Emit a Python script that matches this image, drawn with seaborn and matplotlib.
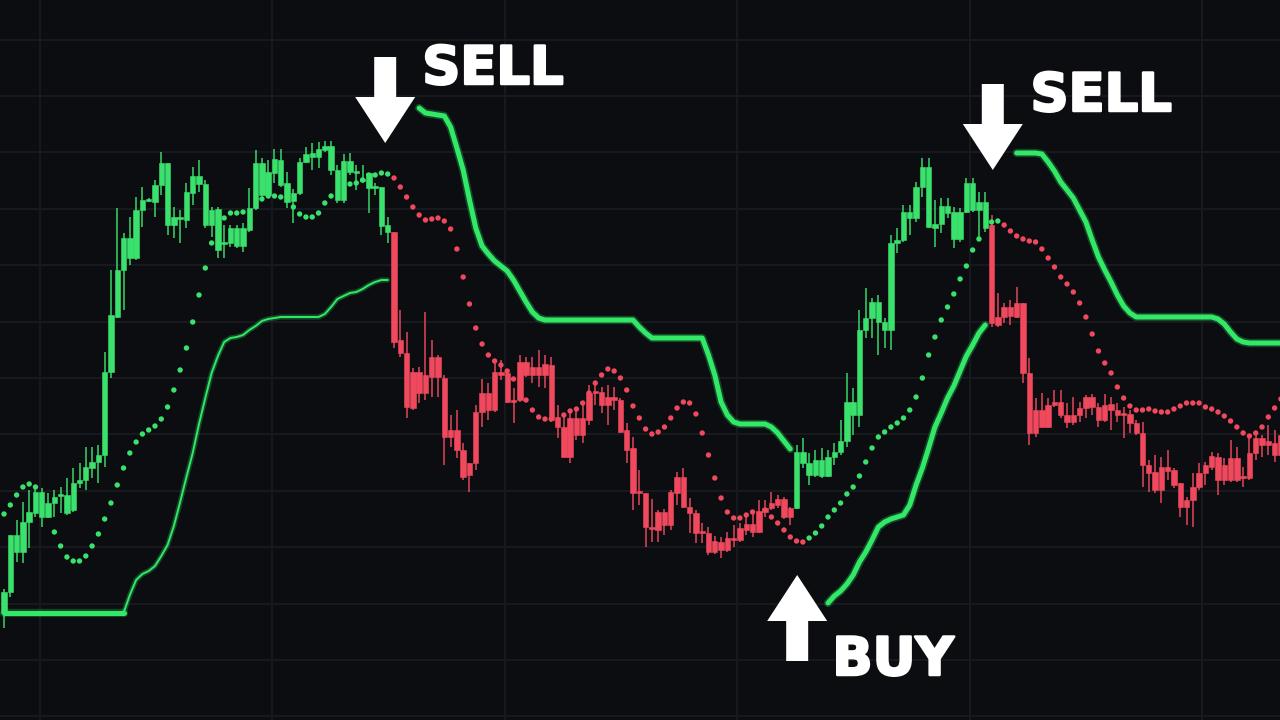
import numpy as np
import pandas as pd
import matplotlib
matplotlib.use("Agg")
import matplotlib.pyplot as plt
import matplotlib.transforms as mtransforms
import matplotlib.patheffects as pe
from matplotlib.patches import Polygon
import seaborn as sns

nan = np.nan

# ---- candles (one value per bar) ----
opens = [107, 128, 168, 168, 198, 207, 203, 203, 217, 224,
         207, 210, 237, 240, 252, 258, 265, 348, 403, 450,
         462, 462, 510, 519, 518, 535, 495, 495, 501, 500,
         527, 536, 495, 495, 470, 476, 477, 474, 474, 490,
         512, 525, 525, 547, 535, 518, 519, 527, 558, 563,
         563, 570, 550, 520, 520, 548, 547, 539, 532, 532,
         494, 488, 488, 380, 367, 348, 348, 345, 363, 363,
         342, 290, 290, 270, 257, 308, 327, 327, 348, 348,
         347, 320, 358, 358, 353, 353, 356, 355, 303, 293,
         302, 302, 302, 327, 328, 328, 323, 323, 320, 290,
         272, 228, 227, 193, 208, 208, 228, 243, 243, 213,
         207, 188, 187, 179, 178, 182, 182, 192, 196, 196,
         209, 212, 217, 221, 221, 212, 212, 257, 245, 245,
         244, 244, 263, 268, 279, 305, 305, 390, 402, 398,
         390, 390, 477, 480, 502, 502, 533, 493, 492, 496,
         507, 481, 481, 508, 510, 510, 492, 495, 403, 413,
         413, 417, 417, 347, 310, 310, 315, 318, 318, 305,
         305, 312, 323, 323, 313, 315, 316, 310, 306, 306,
         297, 287, 255, 248, 253, 253, 250, 237, 220, 233,
         247, 255, 264, 263, 255, 262, 262, 243, 267, 282,
         282, 279, 277, 285]
closes = [128, 185, 185, 198, 208, 228, 228, 217, 223, 225,
          225, 237, 240, 253, 258, 265, 348, 405, 450, 482,
          482, 510, 520, 521, 535, 557, 557, 503, 503, 528,
          544, 544, 536, 510, 511, 477, 492, 492, 492, 512,
          557, 557, 548, 561, 560, 537, 527, 558, 566, 567,
          571, 574, 574, 550, 559, 559, 548, 541, 547, 534,
          533, 495, 378, 367, 313, 312, 327, 327, 343, 343,
          283, 283, 270, 243, 245, 257, 308, 310, 310, 345,
          318, 318, 320, 345, 345, 345, 345, 300, 293, 263,
          263, 285, 285, 300, 327, 315, 315, 320, 288, 270,
          227, 227, 193, 191, 190, 195, 195, 227, 213, 207,
          187, 187, 168, 168, 170, 170, 180, 180, 190, 188,
          188, 208, 212, 215, 203, 203, 268, 268, 257, 260,
          260, 263, 268, 279, 318, 318, 390, 402, 418, 418,
          398, 477, 480, 508, 508, 533, 553, 553, 496, 514,
          514, 508, 508, 537, 537, 518, 518, 397, 395, 403,
          404, 403, 347, 287, 287, 293, 293, 315, 305, 298,
          298, 305, 312, 313, 300, 300, 310, 305, 305, 297,
          287, 255, 247, 230, 230, 249, 235, 213, 213, 220,
          233, 247, 253, 240, 240, 240, 240, 242, 242, 267,
          275, 275, 265, 265]
highs = [131, 185, 200, 218, 230, 235, 232, 227, 230, 233,
         242, 252, 257, 273, 273, 275, 368, 450, 512, 487,
         503, 523, 533, 522, 540, 568, 557, 513, 510, 537,
         553, 560, 540, 513, 513, 495, 495, 495, 497, 532,
         570, 562, 560, 571, 571, 548, 531, 562, 573, 577,
         578, 579, 579, 555, 566, 567, 555, 555, 547, 537,
         533, 503, 488, 410, 388, 352, 353, 408, 380, 365,
         345, 305, 310, 277, 257, 315, 341, 337, 357, 360,
         348, 332, 365, 363, 363, 370, 365, 363, 315, 307,
         310, 313, 318, 335, 335, 333, 335, 333, 322, 297,
         283, 250, 227, 221, 210, 211, 230, 248, 252, 222,
         210, 197, 193, 184, 183, 188, 195, 197, 207, 210,
         220, 220, 228, 225, 223, 213, 275, 282, 267, 270,
         272, 270, 277, 300, 347, 332, 410, 432, 422, 425,
         402, 485, 492, 515, 515, 538, 562, 562, 520, 522,
         522, 513, 512, 542, 542, 528, 528, 505, 427, 417,
         420, 433, 417, 362, 322, 327, 322, 330, 330, 317,
         323, 318, 325, 326, 317, 326, 323, 317, 313, 310,
         300, 298, 260, 265, 263, 270, 252, 237, 223, 247,
         257, 258, 268, 267, 262, 280, 273, 253, 285, 288,
         285, 295, 290, 292]
lows = [92, 123, 158, 157, 172, 203, 193, 202, 203, 207,
        205, 208, 232, 230, 242, 237, 253, 342, 402, 410,
        455, 460, 493, 518, 503, 525, 485, 482, 477, 492,
        515, 528, 492, 483, 462, 462, 473, 472, 468, 488,
        510, 522, 522, 537, 533, 512, 497, 525, 557, 550,
        552, 568, 545, 517, 517, 545, 530, 537, 507, 525,
        485, 477, 372, 363, 302, 310, 317, 320, 323, 323,
        255, 273, 262, 240, 228, 250, 293, 300, 308, 340,
        317, 297, 318, 343, 337, 333, 332, 298, 282, 262,
        257, 280, 277, 295, 315, 307, 295, 310, 287, 257,
        210, 215, 173, 178, 178, 185, 190, 215, 212, 187,
        177, 177, 165, 166, 162, 168, 173, 178, 185, 183,
        187, 203, 210, 212, 201, 195, 211, 252, 235, 243,
        242, 243, 255, 265, 273, 285, 293, 382, 382, 365,
        372, 370, 467, 478, 485, 498, 523, 492, 473, 487,
        502, 472, 478, 507, 508, 483, 488, 393, 393, 397,
        395, 402, 337, 275, 283, 292, 292, 313, 302, 292,
        295, 298, 302, 305, 293, 298, 290, 298, 282, 287,
        285, 233, 228, 227, 217, 240, 232, 203, 195, 193,
        230, 235, 250, 225, 235, 238, 238, 233, 240, 260,
        263, 265, 258, 260]

# trend regimes (bar index where each one starts)
trend_start = [0, 62, 126, 157]
trend_up = [True, False, True, False]

# parabolic SAR dots
sar = [206, 215, 225, 233, 236, 233, nan, nan, 188, 174,
       163, 159, 159, 164, 174, 186, 201, 217, 235, 252,
       267, 278, 286, 290, 294, 301, 313, 330, 350, 372,
       398, 425, 452, 477, nan, 502, 507, 507, 508, nan,
       nan, 521, 524, 524, 523, nan, 513, 506, 503, 503,
       507, 517, 524, nan, nan, 536, 537, 540, 545, 545,
       547, 546, 542, 533, 523, 513, 505, 500, 501, 502,
       499, 491, 471, 443, 416, 392, 376, 365, 359, 355,
       349, 341, nan, 320, 310, 303, 301, 301, nan, 305,
       309, 311, 317, 327, 337, 345, 351, 349, 342, 330,
       314, 302, 291, 286, 288, 293, 302, 312, 318, 317,
       306, 287, 265, 242, 222, 208, 202, 202, 205, 208,
       nan, 210, 203, 197, 190, 183, 179, 178, 182, 187,
       194, 203, 210, 217, 226, 233, 244, 258, 272, 283,
       288, 293, 297, 302, 310, 323, 342, 365, 383, 400,
       413, 426, 441, 454, 470, 481, nan, 498, 499, 495,
       489, 484, 481, 479, 478, 471, 462, 453, 443, 436,
       428, 417, 403, 386, 369, 357, 347, 333, 322, 314,
       310, 310, 311, 309, 308, 308, 311, 314, 317, 317,
       317, 313, 311, 308, 304, 299, 293, 287, 284, 287,
       293, 303, 312, 321]
sar_start = [0, 62, 128, 159]
sar_up = [True, False, True, False]

# trailing stop segments
stop_a_start = 0
stop_a = [107, 107, 107, 107, 107, 107, 107, 107, 107, 107,
          107, 107, 107, 107, 107, 107, 107, 107, 107, 107,
          125, 140, 146, 149, 154, 164, 175, 194, 218, 243,
          267, 296, 322, 347, 364, 378, 382, 383, 385, 390,
          394, 399, 401, 402, 403, 403, 403, 403, 403, 403,
          403, 406, 413, 421, 424, 427, 428, 431, 435, 438,
          440, 440]
stop_b_start = 66
stop_b = [612, 607, 606, 605, 604, 593, 572, 550, 520, 492,
          474, 466, 459, 454, 449, 440, 429, 418, 408, 402,
          400, 400, 400, 400, 400, 400, 400, 400, 400, 400,
          400, 400, 400, 400, 400, 393, 387, 382, 382, 382,
          382, 382, 382, 382, 382, 382, 365, 345, 318, 305,
          298, 296, 296, 296, 296, 296, 293, 287, 279, 271]
stop_c_start = 131
stop_c = [117, 124, 129, 136, 145, 158, 168, 180, 193, 198,
          201, 203, 205, 215, 235, 252, 272, 293, 307, 322,
          334, 349, 364, 375, 387, 395]
stop_d_start = 161
stop_d = [567, 567, 567, 567, 566, 558, 549, 538, 530, 522,
          510, 498, 480, 463, 450, 438, 425, 414, 407, 403,
          403, 403, 403, 403, 403, 403, 403, 403, 403, 403,
          403, 403, 401, 396, 388, 381, 378, 377, 377, 377,
          377, 377, 377]

# signal labels
labels = ["SELL", "SELL", "BUY"]
label_x = [66.5, 163.2, 131.7]
label_y = [636, 609, 45]
arrow_x = [60.6, 157.2, 126.1]
arrow_y = [577, 550, 145]
arrow_down = [True, True, False]

bg = "#0c0d11"
grid_c = "#191b20"
green = "#3ae26d"
red = "#f0495e"
line_green = "#33e866"

sns.set_theme(style="dark", rc={"axes.facecolor": bg, "figure.facecolor": bg})
plt.rcParams["font.family"] = ["DejaVu Sans"]

df = pd.DataFrame({"open": opens, "close": closes, "high": highs,
                   "low": lows, "sar": sar})
df["i"] = np.arange(len(df))


def regime(starts, ups, n):
    out = np.zeros(n, dtype=bool)
    for s, u in zip(starts, ups):
        out[s:] = u
    return out


df["up"] = regime(trend_start, trend_up, len(df))
df["sar_up"] = regime(sar_start, sar_up, len(df))
df["color"] = np.where(df["up"], green, red)

fig = plt.figure(figsize=(12.8, 7.2), dpi=100)
ax = fig.add_axes([0, 0, 1, 1])
ax.set_facecolor(bg)

# grid
ax.set_xticks(5.72 + 36.96 * np.arange(6))
ax.set_yticks(3.7 + 56.4 * np.arange(13))
ax.grid(True, color=grid_c, lw=1.3)
ax.tick_params(length=0, labelbottom=False, labelleft=False)
for sp in ax.spines.values():
    sp.set_visible(False)


# trailing stop lines
def stop_line(start, vals, lw, thin_from=None):
    xs = start + np.arange(len(vals))
    ys = np.array(vals, dtype=float)
    if thin_from is None:
        parts = [(xs, ys, lw)]
    else:
        k = thin_from - start
        parts = [(xs[:k + 1], ys[:k + 1], lw), (xs[k:], ys[k:], 1.4)]
    for px, py, w in parts:
        sns.lineplot(x=px, y=py, ax=ax, color="#1d8f45", lw=w + 2.4,
                     alpha=0.45, estimator=None, sort=False, zorder=2,
                     solid_capstyle="round")
        sns.lineplot(x=px, y=py, ax=ax, color=line_green, lw=w,
                     estimator=None, sort=False, zorder=3,
                     solid_capstyle="round")


stop_line(stop_a_start, stop_a, 3.6, thin_from=19)
stop_line(stop_b_start, stop_b, 3.6)
stop_line(stop_c_start, stop_c, 3.6)
stop_line(stop_d_start, stop_d, 3.6)

# candles
body_lo = df[["open", "close"]].min(axis=1)
body_h = np.maximum((df["close"] - df["open"]).abs(), 2.2)
ax.vlines(df["i"], df["low"], df["high"], colors=df["color"], lw=1.3,
          alpha=0.8, zorder=4)
ax.bar(df["i"], body_h, bottom=body_lo, width=0.86, color=df["color"],
       linewidth=0.4, edgecolor=df["color"], zorder=5)

# SAR dots
sar_df = df.dropna(subset=["sar"]).copy()
sar_df["side"] = np.where(sar_df["sar_up"], "up", "down")
sns.scatterplot(data=sar_df, x="i", y="sar", hue="side",
                palette={"up": green, "down": red}, s=15, linewidth=0,
                legend=False, ax=ax, zorder=6)

# arrows and labels
shape = np.array([[0, 0], [30, 46], [11, 46], [11, 86], [-11, 86],
                  [-11, 46], [-30, 46]], dtype=float)
for ax_x, ax_y, down in zip(arrow_x, arrow_y, arrow_down):
    tr = (mtransforms.Affine2D().scale(1, 1 if down else -1)
          + mtransforms.ScaledTranslation(ax_x, ax_y, ax.transData))
    ax.add_patch(Polygon(shape, closed=True, transform=tr, facecolor="white",
                         edgecolor="none", zorder=8, clip_on=False))

for txt, tx, ty in zip(labels, label_x, label_y):
    ax.text(tx, ty, txt, color="white", fontsize=38, fontweight="bold",
            ha="left", va="baseline", zorder=8,
            path_effects=[pe.withStroke(linewidth=1.8, foreground="white")])

ax.set_xlim(-0.64, 202.86)
ax.set_ylim(0, 720)
ax.set_xlabel("")
ax.set_ylabel("")

fig.savefig("out.png", dpi=100, facecolor=bg)
